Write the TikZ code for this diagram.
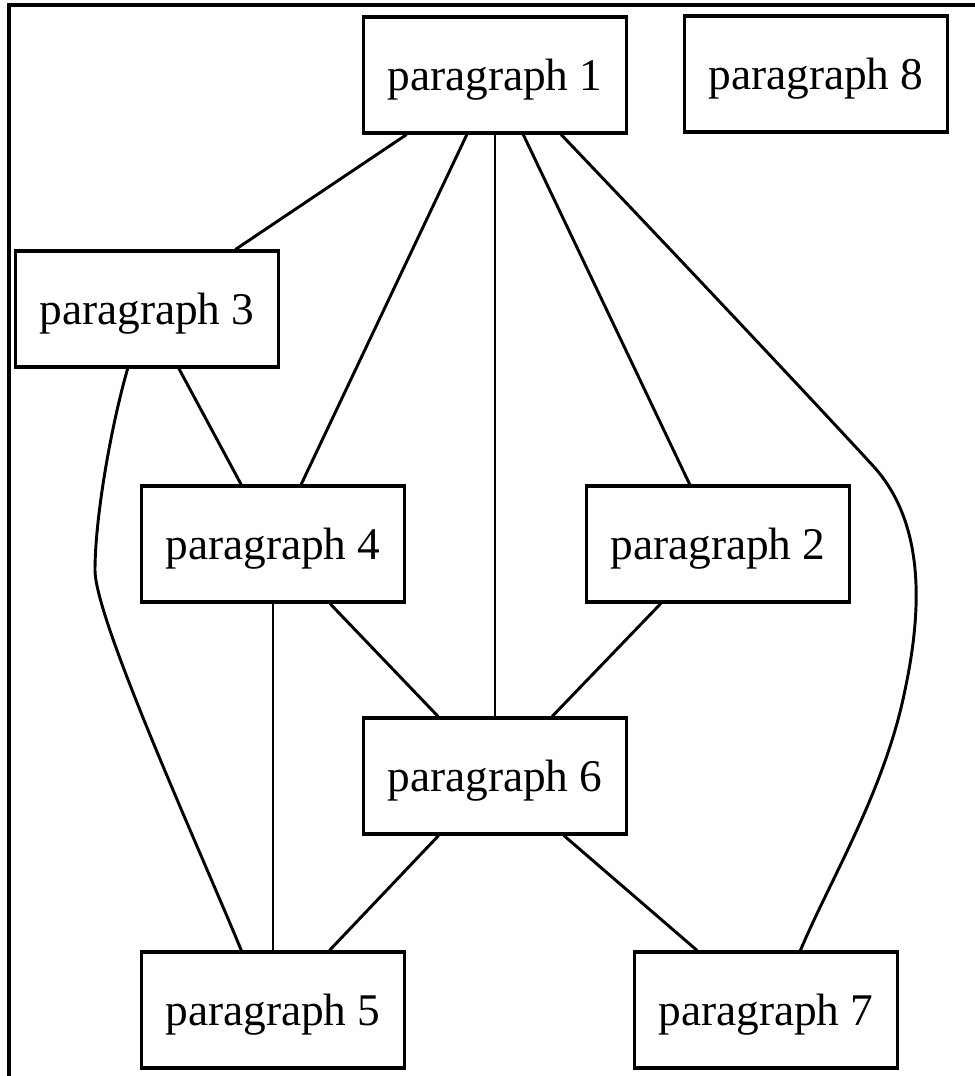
\documentclass[tikz,border=0pt]{standalone}
\usepackage{fontspec}
\setmainfont{Liberation Serif}
\begin{document}
\begin{tikzpicture}[x=0.75pt, y=-0.75pt,
  every node/.style={font=\fontsize{34}{40}\selectfont},
  para/.style={draw, line width=2.3pt, rectangle, minimum width=197pt, minimum height=87pt, inner sep=0pt, text depth=0pt},
  link/.style={line width=2.2pt}]
\useasboundingbox (0,0) rectangle (975,1076);
% frame
\draw[line width=2.6pt] (9,1076) -- (9,5) -- (975,5);
% paragraphs
\node[para] (p1) at (495,75) {paragraph 1};
\node[para] (p8) at (816,74) {paragraph 8};
\node[para] (p3) at (147,309) {paragraph 3};
\node[para] (p4) at (273,544) {paragraph 4};
\node[para] (p2) at (718,544) {paragraph 2};
\node[para] (p6) at (495,776) {paragraph 6};
\node[para] (p5) at (273,1010) {paragraph 5};
\node[para] (p7) at (766,1010) {paragraph 7};
% links
\draw[link] (p1) -- (p3);
\draw[link] (p1) -- (p4);
\draw[link] (p1) -- (p6);
\draw[link] (p1) -- (p2);
\draw[link] (p3) -- (p4);
\draw[link] (p4) -- (p5);
\draw[link] (p4) -- (p6);
\draw[link] (p2) -- (p6);
\draw[link] (p6) -- (p5);
\draw[link] (p6) -- (p7);
\draw[link] (p3.-108) .. controls (110,430) and (95,520) .. (95,570)
  .. controls (95,620) and (200,850) .. (p5.118);
\draw[link] (p1.-42) .. controls (700,280) and (845,435) .. (875,468)
  .. controls (925,525) and (922,610) .. (905,690)
  .. controls (885,790) and (830,880) .. (p7.60);
\end{tikzpicture}
\end{document}
